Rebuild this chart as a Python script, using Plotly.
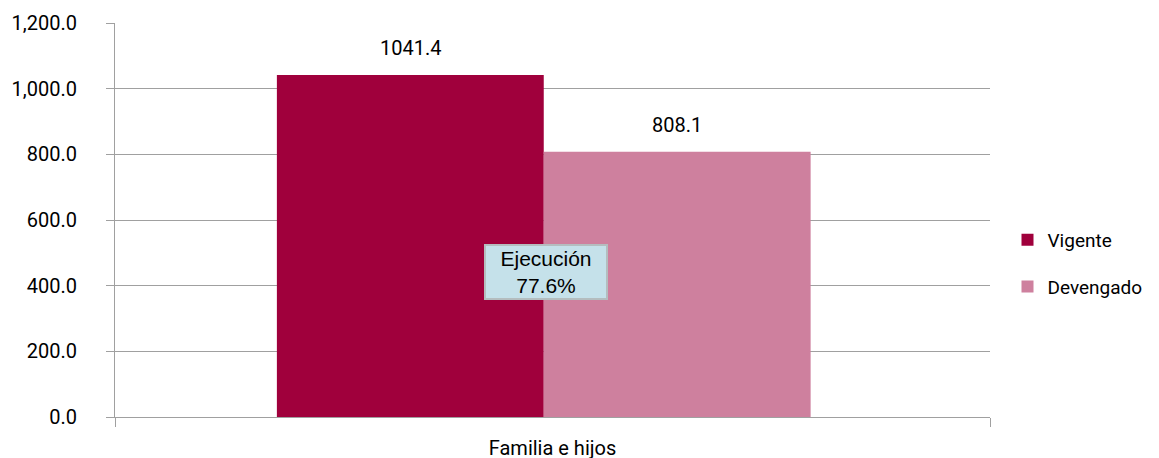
import plotly.graph_objects as go

categorias = ["Familia e hijos"]
series = ["Vigente", "Devengado"]
valores = [[1041.4], [808.1]]
colores = ["#A0003C", "#CE809E"]
ejecucion = "Ejecución<br>77.6%"

fuente = "Roboto, Arial, sans-serif"

# bar geometry inside the single category (from -0.5 to 0.5)
ancho = 0.305
offsets = [-0.315, -0.01]

fig = go.Figure()
anotaciones = []
for i in range(len(series)):
	fig.add_trace(go.Bar(
		x=categorias,
		y=valores[i],
		name=series[i],
		legendgroup=series[i],
		marker=dict(color=colores[i], line=dict(width=0)),
		width=ancho,
		offset=offsets[i],
		hoverinfo="y+name"
	))
	for j in range(len(categorias)):
		anotaciones.append(dict(
			x=j + offsets[i] + ancho / 2,
			y=valores[i][j],
			xref="x",
			yref="y",
			text="%.1f" % valores[i][j],
			showarrow=False,
			yanchor="middle",
			yshift=27,
			font=dict(family=fuente, size=20, color="black")
		))

anotaciones.append(dict(
	x=0.4926,
	y=441,
	xref="paper",
	yref="y",
	text=ejecucion,
	showarrow=False,
	font=dict(family="Liberation Sans, Arial, sans-serif", size=21, color="black"),
	bgcolor="#C5E1EA",
	bordercolor="#B4BDBF",
	borderwidth=2,
	borderpad=2,
	width=116,
	height=48
))

fig.update_layout(
	width=1159,
	height=458,
	barmode="overlay",
	plot_bgcolor="white",
	paper_bgcolor="white",
	font=dict(family=fuente, size=20, color="black"),
	margin=dict(l=107, r=177, t=15, b=49),
	showlegend=True,
	legend=dict(
		x=1.02,
		y=0.39,
		xanchor="left",
		yanchor="middle",
		font=dict(family=fuente, size=19),
		tracegroupgap=19,
		itemwidth=30,
		borderwidth=0
	),
	xaxis=dict(
		showline=True,
		linecolor="#A0A0A0",
		ticks="outside",
		tickson="boundaries",
		ticklen=9,
		tickcolor="#A0A0A0",
		showgrid=False,
		ticklabelstandoff=13,
		automargin=False
	),
	yaxis=dict(
		range=[0, 1200],
		dtick=200,
		tickformat=",.1f",
		showline=True,
		linecolor="#A0A0A0",
		ticks="outside",
		ticklen=8,
		tickcolor="#A0A0A0",
		showgrid=True,
		gridcolor="#A0A0A0",
		zeroline=False,
		ticklabelstandoff=25,
		automargin=False
	),
	annotations=anotaciones
)

fig.write_html("out.html")
